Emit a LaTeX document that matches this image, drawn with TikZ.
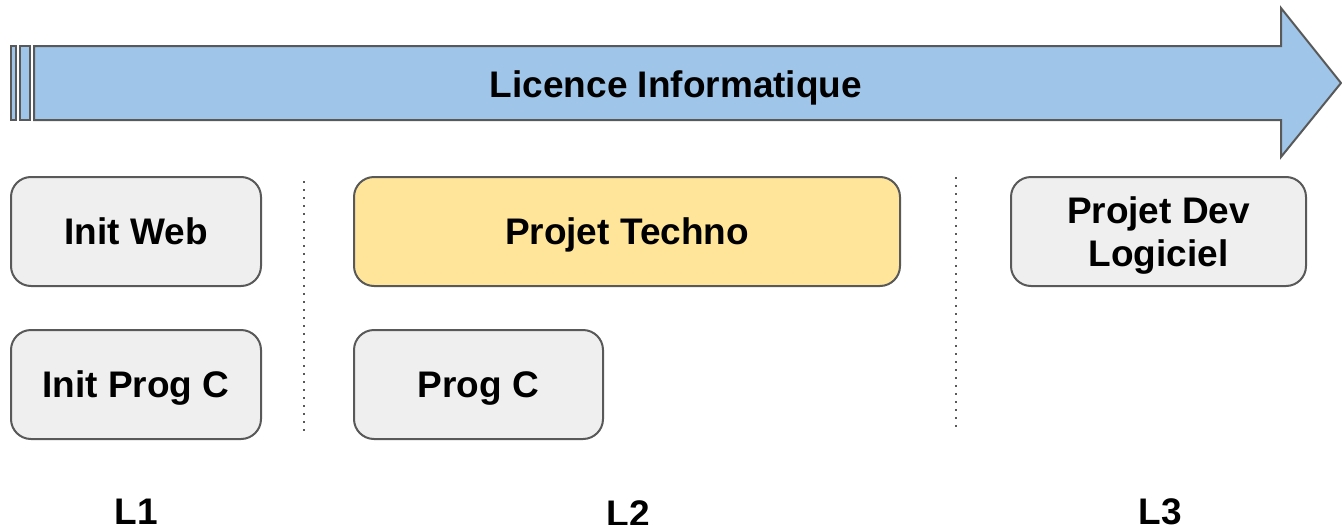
\documentclass[tikz,border=0pt]{standalone}
\usepackage{fontspec}
\setmainfont{Liberation Sans}
\definecolor{arrowblue}{HTML}{9FC5E8}
\definecolor{edgegray}{HTML}{595959}
\definecolor{boxgray}{HTML}{EFEFEF}
\definecolor{boxyellow}{HTML}{FFE599}
\begin{document}
\begin{tikzpicture}[x=1pt,y=-1pt,
  bigtext/.style={font=\fontsize{37}{43}\selectfont\bfseries, text height=34pt, text depth=7.5pt},
  course/.style={draw=edgegray, line width=2pt, fill=boxgray, rounded corners=20pt,
    minimum height=109pt, inner sep=0pt, align=center, bigtext},
  yellowcourse/.style={course, fill=boxyellow},
  sep/.style={edgegray, line width=2pt, dash pattern=on 2pt off 6pt},
  level/.style={bigtext, inner sep=0pt},
  band/.style={draw=edgegray, line width=2pt, fill=arrowblue}]
\useasboundingbox (0,0) rectangle (1342,525);
% arrow
\draw[band, line join=miter] (34,46) -- (1281,46) -- (1281,8) -- (1341,83) -- (1281,157) -- (1281,120) -- (34,120) -- cycle;
\draw[band] (11,46) rectangle (16,120);
\draw[band] (20,46) rectangle (30,120);
\node[level] (title) at (676,84) {Licence Informatique};
% courses
\node[course, minimum width=250pt] (initweb) at (136,231.5) {Init Web};
\node[course, minimum width=250pt] (initprog) at (136,384.5) {Init Prog C};
\node[yellowcourse, minimum width=546pt] (techno) at (627,231.5) {Projet Techno};
\node[course, minimum width=295pt, text height=, text depth=0pt] (devlog) at (1158.5,231.5) {Projet Dev\\Logiciel};
\node[course, minimum width=249pt] (progc) at (478.5,384.5) {Prog C};
% separators
\coordinate (s1a) at (304,181);
\coordinate (s1b) at (304,432);
\coordinate (s2a) at (956,177);
\coordinate (s2b) at (956,428);
\draw[sep] (s1a) -- (s1b);
\draw[sep] (s2a) -- (s2b);
% levels
\node[level] (l1) at (136,511) {L1};
\node[level] (l2) at (628,513) {L2};
\node[level] (l3) at (1160,511) {L3};
\end{tikzpicture}
\end{document}
